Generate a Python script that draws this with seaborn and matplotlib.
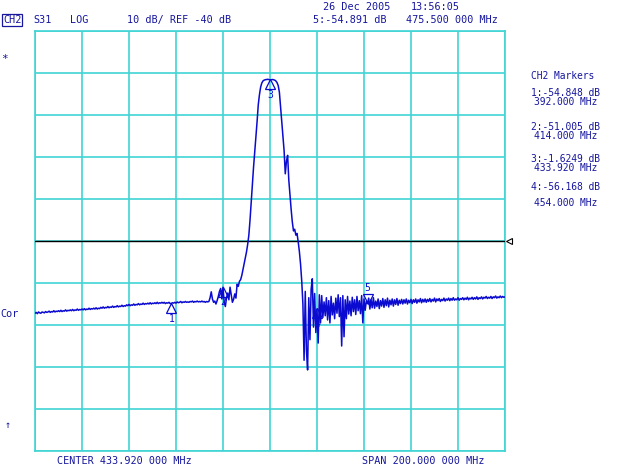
import numpy as np
import matplotlib
matplotlib.use("Agg")
import matplotlib.pyplot as plt
import matplotlib.transforms as mtransforms
import seaborn as sns

# ---------------- data ----------------
center_mhz = 433.92
span_mhz = 200.0
ref_db = -40.0
db_per_div = 10.0

trace_db = [
    # baseline 333.92 .. 407.42 MHz
    -57.2, -57.0, -57.3, -56.9, -57.1, -57.2, -56.9, -57.0, -57.1, -56.8,
    -57.0, -56.9, -56.7, -57.0, -56.8, -56.9, -56.6, -56.9, -56.7, -56.8,
    -56.6, -56.8, -56.5, -56.8, -56.6, -56.7, -56.4, -56.7, -56.5, -56.6,
    -56.4, -56.6, -56.3, -56.6, -56.4, -56.5, -56.2, -56.5, -56.3, -56.4,
    -56.2, -56.4, -56.1, -56.4, -56.2, -56.3, -56.0, -56.3, -56.1, -56.2,
    -56.0, -56.2, -55.9, -56.2, -56.0, -56.1, -55.8, -56.0, -55.7, -56.0,
    -55.8, -55.9, -55.6, -55.9, -55.7, -55.8, -55.5, -55.8, -55.6, -55.7,
    -55.4, -55.7, -55.5, -55.6, -55.3, -55.6, -55.4, -55.5, -55.2, -55.4,
    -55.1, -55.4, -55.2, -55.3, -55.0, -55.3, -55.1, -55.2, -54.9, -55.2,
    -55.0, -55.1, -54.8, -55.1, -54.9, -55.0, -54.8, -55.0, -54.7, -55.0,
    -54.8, -54.9, -54.7, -54.9, -54.6, -54.9, -54.7, -54.8, -54.6, -54.8,
    -54.6, -54.9, -54.7, -54.8, -54.6, -54.9, -54.85, -54.7, -54.8, -54.6,
    -54.8, -54.5, -54.7, -54.6, -54.4, -54.7, -54.5, -54.6, -54.4, -54.6,
    -54.5, -54.6, -54.4, -54.5, -54.3, -54.6, -54.4, -54.5, -54.3, -54.5,
    -54.4, -54.5, -54.3, -54.5, -54.4, -54.6, -54.4, -54.5,
    # ripple + passband
    -54.4, -53.5, -52.1, -53.8, -54.6, -54.3, -55.0, -54.2, -53.2, -52.0,
    -51.3, -53.8, -51.0, -54.6, -55.6, -53.5, -52.4, -54.0, -51.0, -52.8,
    -54.6, -53.9, -52.6, -53.6, -50.3, -50.8, -49.6, -49.2, -48.2, -46.8,
    -45.5, -44.0, -42.6, -40.8, -38.6, -35.0, -30.8, -26.5, -22.4, -18.8,
    -15.2, -11.6, -7.6, -5.2, -3.4, -2.4, -1.9, -1.7, -1.6, -1.55,
    -1.5, -1.55, -1.62, -1.6, -1.55, -1.6, -1.7, -1.9, -2.3, -3.0,
    -4.6, -8.0, -11.5, -15.0, -18.5, -24.0, -21.0, -19.6, -25.5, -29.0,
    -32.5, -35.5, -37.6, -37.2, -38.6, -38.2, -40.2, -42.5, -45.5, -49.5,
    # upper stopband, noisy
    -55.0, -68.4, -52.0, -66.0, -70.7, -53.5, -63.5, -51.5, -49.0, -60.5,
    -52.5, -61.8, -56.2, -64.3, -52.8, -59.5, -53.0, -58.2, -54.5, -57.8,
    -53.5, -58.8, -54.2, -59.5, -53.2, -57.6, -54.8, -58.5, -53.6, -57.2,
    -52.8, -58.0, -53.5, -65.0, -53.0, -62.8, -54.0, -58.5, -53.2, -57.4,
    -54.3, -57.8, -53.4, -56.8, -54.0, -57.5, -53.2, -56.6, -54.2, -57.3,
    -53.0, -59.5, -53.8, -56.5, -54.3, -54.9,
    -53.6, -56.2, -54.0, -55.9, -53.5, -56.0, -54.3, -55.6, -53.8, -56.1,
    -54.2, -55.5, -53.7, -55.8, -54.0, -55.4, -53.6, -55.7, -54.1, -55.2,
    -53.8, -55.5, -54.0, -55.1, -53.7, -55.3, -54.1, -54.9, -53.9, -55.0,
    -54.0, -54.8, -53.8, -55.0, -54.1, -54.7, -53.9, -54.9, -54.0, -54.6,
    -53.8, -54.8, -54.0, -54.5, -53.7, -54.7, -53.9, -54.5, -53.8, -54.6,
    -53.9, -54.4, -53.7, -54.5, -53.9, -54.3, -53.6, -54.5, -53.8, -54.2,
    -53.7, -54.4, -53.9, -54.2, -53.6, -54.3, -53.8, -54.1, -53.6, -54.2,
    -53.7, -54.1, -53.5, -54.1, -53.8, -54.0, -53.5, -54.1, -53.7, -53.9,
    -53.5, -54.0, -53.6, -53.9, -53.4, -54.0, -53.6, -53.8, -53.4, -53.9,
    -53.5, -53.8, -53.3, -53.9, -53.5, -53.7, -53.3, -53.8, -53.4, -53.6,
    -53.2, -53.7, -53.4, -53.6, -53.2, -53.7, -53.3, -53.5, -53.1, -53.6,
    -53.3, -53.5, -53.1, -53.5, -53.2, -53.4, -53.3,
]

marker_ids = ["1", "2", "3", "4", "5"]
marker_mhz = [392.000, 414.000, 433.920, 454.000, 475.500]
marker_db = [-54.848, -51.005, -1.6249, -56.168, -54.891]

x0 = center_mhz - span_mhz / 2
x1 = center_mhz + span_mhz / 2
freq_mhz = np.linspace(x0, x1, len(trace_db))

# ---------------- style ----------------
sns.set_style("white")
plt.rcParams["font.family"] = ["DejaVu Sans Mono", "DejaVu Sans"]

W, H = 639, 465
fig = plt.figure(figsize=(W / 100, H / 100), dpi=100)
fig.patch.set_facecolor("white")
ax = fig.add_axes([35 / W, (H - 451) / H, 470 / W, 420 / H])

grid_c = "#40D4D4"
trace_c = "#0A0AD0"
text_c = "#16169E"

sns.lineplot(x=freq_mhz, y=trace_db, ax=ax, color=trace_c, linewidth=1.1,
             estimator=None, sort=False, zorder=4)

ax.set_xlim(x0, x1)
ax.set_ylim(ref_db - 5 * db_per_div, ref_db + 5 * db_per_div)
ax.set_xticks(np.linspace(x0, x1, 11))
ax.set_yticks(np.linspace(ref_db - 5 * db_per_div, ref_db + 5 * db_per_div, 11))
ax.set_xticklabels([])
ax.set_yticklabels([])
ax.tick_params(length=0)
ax.grid(True, color=grid_c, linewidth=1.2)
ax.set_axisbelow(True)
for s in ax.spines.values():
    s.set_color(grid_c)
    s.set_linewidth(1.2)
ax.set_xlabel("")
ax.set_ylabel("")

# reference line
ax.axhline(ref_db, color="black", linewidth=1.0, zorder=3)
trans_ref = mtransforms.blended_transform_factory(ax.transAxes, ax.transData)
ax.plot([1.008], [ref_db], marker="<", markersize=4, mfc="white", mec="black",
        mew=0.8, transform=trans_ref, clip_on=False, zorder=5)

# markers
for mid, mf, md in zip(marker_ids, marker_mhz, marker_db):
    if mid == "5":
        tri = mtransforms.offset_copy(ax.transData, fig=fig, x=0, y=3.2, units="points")
        lab = mtransforms.offset_copy(ax.transData, fig=fig, x=0, y=11, units="points")
        mk = "v"
    else:
        tri = mtransforms.offset_copy(ax.transData, fig=fig, x=0, y=-3.2, units="points")
        lab = mtransforms.offset_copy(ax.transData, fig=fig, x=0, y=-11, units="points")
        mk = "^"
    ax.plot([mf], [md], marker=mk, markersize=6.5, mfc="none", mec=trace_c,
            mew=0.9, transform=tri, zorder=6)
    ax.text(mf, md, mid, transform=lab, ha="center", va="center",
            fontsize=7, color=trace_c, zorder=6)


def ftext(x, y, s, size=7.3, **kw):
    fig.text(x / W, 1 - y / H, s, fontsize=size, color=text_c,
             ha="left", va="center", **kw)


# header
ftext(323, 7, "26 Dec 2005")
ftext(411, 7, "13:56:05")
ftext(3, 20, "CH2", bbox=dict(boxstyle="square,pad=0.1", fc="none",
                              ec=text_c, lw=0.9))
ftext(33, 20, "S31")
ftext(70, 20, "LOG")
ftext(127, 20, "10 dB/ REF -40 dB")
ftext(313, 20, "5:-54.891 dB")
ftext(406, 20, "475.500 000 MHz")

# left side labels
ftext(1, 59, "*", size=8)
ftext(0, 314, "Cor")
ftext(5, 425, "\u2191")

# bottom
ftext(57, 461, "CENTER 433.920 000 MHz")
ftext(362, 461, "SPAN 200.000 000 MHz")

# marker table
ps = 6.9
ftext(531, 76, "CH2 Markers", size=ps)
ftext(531, 93, "1:-54.848 dB", size=ps)
ftext(534, 102, "392.000 MHz", size=ps)
ftext(531, 127, "2:-51.005 dB", size=ps)
ftext(534, 136, "414.000 MHz", size=ps)
ftext(531, 159, "3:-1.6249 dB", size=ps)
ftext(534, 168, "433.920 MHz", size=ps)
ftext(531, 187, "4:-56.168 dB", size=ps)
ftext(534, 203, "454.000 MHz", size=ps)

fig.savefig("out.png", dpi=100, facecolor="white")
